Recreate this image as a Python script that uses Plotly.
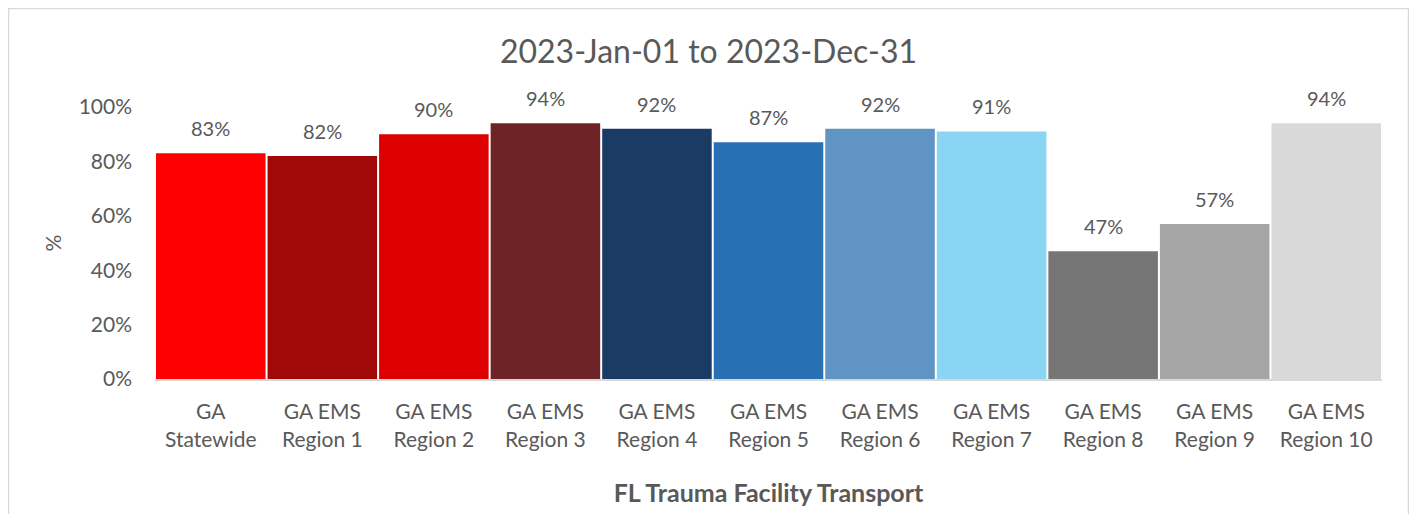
import plotly.graph_objects as go

categories = ["GA<br>Statewide", "GA EMS<br>Region 1", "GA EMS<br>Region 2", "GA EMS<br>Region 3",
              "GA EMS<br>Region 4", "GA EMS<br>Region 5", "GA EMS<br>Region 6", "GA EMS<br>Region 7",
              "GA EMS<br>Region 8", "GA EMS<br>Region 9", "GA EMS<br>Region 10"]
values = [0.83, 0.82, 0.90, 0.94, 0.92, 0.87, 0.92, 0.91, 0.47, 0.57, 0.94]
colors = ["#FF0000", "#A10808", "#DC0000", "#6E2427", "#1A3C64", "#2870B4",
          "#6094C4", "#8AD4F4", "#767676", "#A6A6A6", "#D9D9D9"]

font = "Lato, Open Sans, sans-serif"
grey = "#595959"

fig = go.Figure()
fig.add_trace(go.Bar(x=categories, y=values, marker_color=colors, marker_line_width=0,
                     hoverinfo="skip"))

# data labels sit a bit above each bar, like Excel
for c, v in zip(categories, values):
    fig.add_annotation(x=c, y=v, text="%d%%" % round(v * 100), showarrow=False,
                       yanchor="bottom", yshift=11, font=dict(size=20, color=grey, family=font))

# light outer chart border
fig.add_shape(type="rect", xref="paper", yref="paper", x0=-0.1194, x1=1.0216, y0=-0.6, y1=1.362,
              line=dict(color="#D9D9D9", width=1.5), layer="below")

fig.update_layout(
    width=1401, height=506,
    margin=dict(l=147, r=27, t=99, b=135),
    paper_bgcolor="white", plot_bgcolor="white",
    bargap=0.018,
    showlegend=False,
    title=dict(text="2023-Jan-01 to 2023-Dec-31", x=0.5, xanchor="center",
               y=0.913, yanchor="middle", font=dict(size=32, color=grey, family=font)),
    font=dict(family=font, color=grey, size=21),
)
fig.update_xaxes(showline=True, linecolor="#D9D9D9", linewidth=2, ticks="", tickfont=dict(size=21),
                 ticklabelstandoff=13, automargin=False,
                 title=dict(text="<b>FL Trauma Facility Transport</b>", font=dict(size=25), standoff=35))
fig.update_yaxes(range=[0, 1], tickvals=[0, 0.2, 0.4, 0.6, 0.8, 1.0], tickformat=".0%",
                 showgrid=False, zeroline=False, tickfont=dict(size=21), ticklabelstandoff=22,
                 automargin=False,
                 title=dict(text="%", font=dict(size=21), standoff=11))

fig.write_html("out.html")
